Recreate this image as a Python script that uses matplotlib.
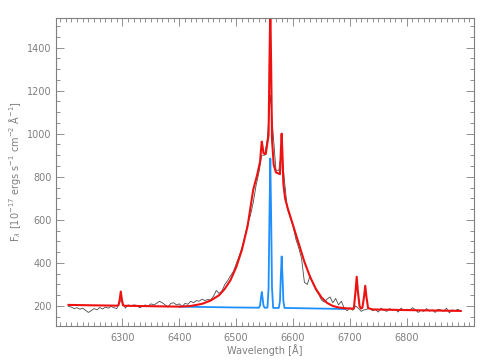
import numpy as np
import matplotlib
matplotlib.use('Agg')
import matplotlib.pyplot as plt
from matplotlib.ticker import MultipleLocator, FixedLocator

# observed spectrum, sampled every 5 A
wave_obs = np.arange(6205, 6900, 5)
flux_obs = [198, 195, 188, 192, 185, 190, 180, 170, 178, 188,
            182, 193, 186, 195, 190, 198, 192, 188, 225, 215,
            190, 205, 200, 205, 203, 192, 198, 205, 200, 210,
            205, 212, 222, 215, 205, 195, 212, 215, 205, 210,
            198, 212, 208, 222, 215, 225, 222, 232, 225, 230,
            228, 245, 272, 258, 270, 300, 318, 340, 360, 395,
            430, 470, 520, 580, 620, 680, 760, 820, 900, 900,
            980, 1180, 1000, 830, 830, 920, 780, 650, 610, 570,
            510, 470, 420, 310, 300, 340, 305, 275, 255, 228,
            218, 232, 242, 215, 235, 205, 222, 190, 178, 192,
            180, 200, 190, 175, 182, 185, 190, 178, 183, 172,
            190, 180, 175, 188, 180, 185, 172, 190, 178, 185,
            180, 192, 183, 170, 180, 175, 188, 176, 182, 170,
            185, 182, 175, 190, 168, 182, 178, 185, 175]

# total model fit (red)
wave_fit = [6205, 6250, 6290, 6293, 6295, 6297, 6299, 6301, 6304, 6350,
            6400, 6420, 6440, 6455, 6470, 6480, 6490, 6500, 6510, 6520,
            6530, 6537, 6542, 6543.5, 6545, 6546.5, 6548, 6552, 6557, 6558.5,
            6560, 6561.5, 6563, 6566, 6570, 6577, 6578.5, 6580, 6581.5, 6583,
            6586, 6590, 6600, 6610, 6620, 6630, 6640, 6650, 6660, 6670,
            6680, 6690, 6700, 6707, 6710, 6712, 6714, 6717, 6719.5, 6722,
            6725, 6727, 6729, 6732, 6740, 6800, 6895]
flux_fit = [205, 203, 201.5, 203, 228, 267, 228, 203, 201, 199,
            197, 200, 210, 225, 250, 280, 320, 380, 460, 570,
            740, 810, 870, 919, 963, 939, 910, 905, 994, 1321,
            1588, 1313, 974, 855, 820, 812, 916, 1000, 896, 767,
            700, 660, 575, 490, 405, 335, 280, 240, 214, 200,
            193, 190, 188, 188, 270, 336, 270, 200, 188, 192,
            245, 294, 245, 190, 184, 181, 177]

# continuum + narrow lines (blue)
wave_nar = [6400, 6500, 6540, 6542, 6543.5, 6545, 6546.5, 6548, 6550, 6555,
            6557, 6558.5, 6560, 6561.5, 6563, 6565, 6575, 6577, 6578.5, 6580,
            6581.5, 6583, 6585, 6690]
flux_nar = [197, 193, 192, 202, 236, 265, 236, 202, 192, 192,
            286, 615, 885, 615, 286, 191, 191, 223, 337, 430,
            337, 223, 191, 186]

grey = '#7f7f7f'
fig = plt.figure(figsize=(4.91, 3.62), dpi=100)
ax = fig.add_axes([0.114, 0.0994, 0.851, 0.8509])

ax.plot(wave_obs, flux_obs, color='#4a4a4a', lw=0.6)
ax.plot(wave_nar, flux_nar, color='#1e8fff', lw=1.3)
ax.plot(wave_fit, flux_fit, color='#ee1111', lw=1.5)

ax.set_xlim(6183, 6918)
ax.set_ylim(107, 1537)
ax.xaxis.set_major_locator(FixedLocator([6300, 6400, 6500, 6600, 6700, 6800]))
ax.xaxis.set_minor_locator(MultipleLocator(10))
ax.yaxis.set_major_locator(MultipleLocator(200))
ax.yaxis.set_minor_locator(MultipleLocator(50))
ax.tick_params(which='both', direction='in', top=True, right=True,
               color=grey, labelcolor=grey, labelsize=7, width=0.6)
ax.tick_params(which='major', length=6)
ax.tick_params(axis='x', which='major', pad=5)
ax.tick_params(axis='y', which='major', pad=3)
ax.tick_params(which='minor', length=3)
for s in ax.spines.values():
    s.set_color(grey)
    s.set_linewidth(0.8)

ax.set_xlabel('Wavelength [Å]', color=grey, fontsize=7, labelpad=1)
ax.set_ylabel(r'F$_\lambda$ [10$^{-17}$ ergs s$^{-1}$ cm$^{-2}$ Å$^{-1}$]',
              color=grey, fontsize=7, labelpad=3)

fig.savefig('out.png', dpi=100)
